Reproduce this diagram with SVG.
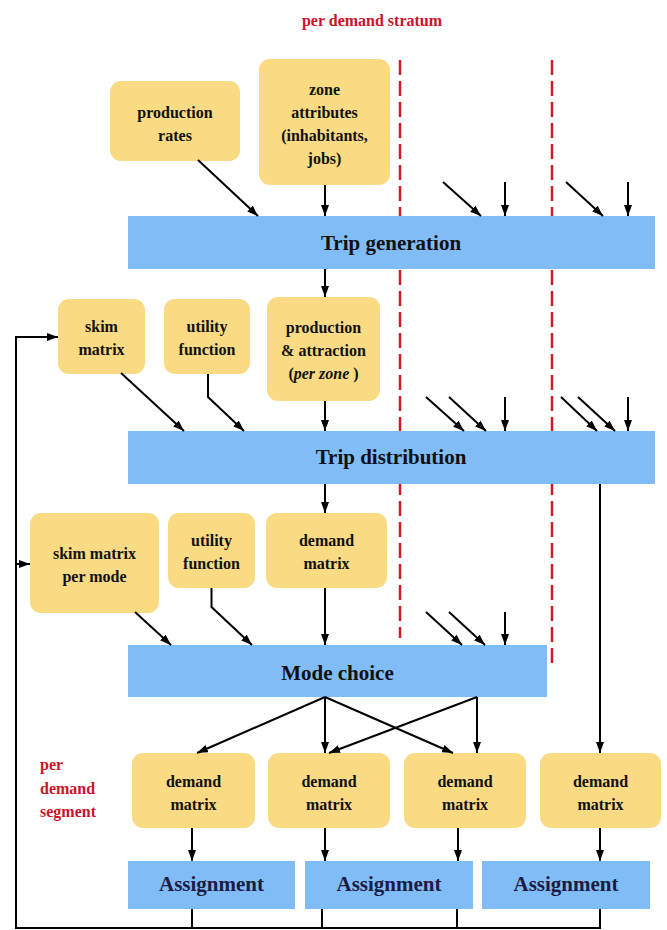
<svg xmlns="http://www.w3.org/2000/svg" width="667" height="930" viewBox="0 0 667 930">
<defs>
<marker id="ah" markerUnits="userSpaceOnUse" markerWidth="11" markerHeight="8" refX="11" refY="4" orient="auto">
<path d="M0,0 L11,4 L0,8 z" fill="#000"/>
</marker>
<style>
.y{fill:#FADA82;}
.b{fill:#80BCF6;}
text{font-family:'Liberation Serif', 'DejaVu Serif', serif;font-weight:bold;}
.t{font-size:16px;fill:#111;text-anchor:middle;}
.bt{font-size:21px;fill:#111;text-anchor:middle;}
.at{fill:#1b1b45;}
.r{font-size:16px;fill:#CC1428;}
.c{stroke:#000;stroke-width:2;fill:none;}
.ca{stroke:#000;stroke-width:2;fill:none;marker-end:url(#ah);}
.d{stroke:#D01C2A;stroke-width:2.5;stroke-dasharray:15 6;fill:none;}
</style>
</defs>
<rect width="667" height="930" fill="#fff"/>

<g id="strata">
<line class="d" x1="400" y1="60" x2="400" y2="638"/>
<line class="d" x1="552" y1="60" x2="552" y2="665"/>
<text class="r" x="372" y="26" text-anchor="middle" font-family="Liberation Serif">per demand stratum</text>
<text class="r" x="40" y="770" font-family="Liberation Serif">per</text>
<text class="r" x="40" y="794" font-family="Liberation Serif">demand</text>
<text class="r" x="40" y="817" font-family="Liberation Serif">segment</text>
</g>

<g id="production-rates" font-family="Liberation Serif"><rect class="y" x="110" y="81" width="130" height="80" rx="11"/>
<text class="t" x="175" y="117.5">production</text><text class="t" x="175" y="140.5">rates</text></g>

<g id="zone-attributes"><rect class="y" x="259" y="59" width="131" height="126" rx="11"/>
<text class="t" x="324.5" y="94.5">zone</text><text class="t" x="324.5" y="117.5">attributes</text><text class="t" x="324.5" y="140.5">(inhabitants,</text><text class="t" x="324.5" y="163.5">jobs)</text></g>

<g id="trip-generation"><rect class="b" x="128" y="216" width="527" height="53"/>
<text class="bt" x="391" y="250">Trip generation</text></g>

<g id="skim-matrix"><rect class="y" x="58" y="299" width="87" height="75" rx="11"/>
<text class="t" x="101.5" y="332">skim</text><text class="t" x="101.5" y="355">matrix</text></g>

<g id="utility-function-1"><rect class="y" x="164" y="299" width="86" height="75" rx="11"/>
<text class="t" x="207" y="332">utility</text><text class="t" x="207" y="355">function</text></g>

<g id="production-attraction"><rect class="y" x="267" y="297" width="113" height="104" rx="11"/>
<text class="t" x="323.5" y="333">production</text><text class="t" x="323.5" y="356">&amp; attraction</text><text class="t" x="323.5" y="379">(<tspan font-style="italic">per zone</tspan> )</text></g>

<g id="trip-distribution"><rect class="b" x="128" y="431" width="527" height="53"/>
<text class="bt" x="391" y="464">Trip distribution</text></g>

<g id="skim-matrix-per-mode"><rect class="y" x="30" y="513" width="129" height="100" rx="11"/>
<text class="t" x="94.5" y="558.5">skim matrix</text><text class="t" x="94.5" y="581.5">per mode</text></g>

<g id="utility-function-2"><rect class="y" x="168" y="513" width="87" height="75" rx="11"/>
<text class="t" x="211.5" y="546">utility</text><text class="t" x="211.5" y="569">function</text></g>

<g id="demand-matrix-0"><rect class="y" x="266" y="513" width="121" height="75" rx="11"/>
<text class="t" x="326.5" y="546">demand</text><text class="t" x="326.5" y="569">matrix</text></g>

<g id="mode-choice"><rect class="b" x="128" y="645" width="419" height="52"/>
<text class="bt" x="337.5" y="680">Mode choice</text></g>

<g id="demand-matrix-1"><rect class="y" x="132" y="753" width="123" height="75" rx="11"/>
<text class="t" x="193.5" y="787">demand</text><text class="t" x="193.5" y="810">matrix</text></g>
<g id="demand-matrix-2"><rect class="y" x="268" y="753" width="122" height="75" rx="11"/>
<text class="t" x="329" y="787">demand</text><text class="t" x="329" y="810">matrix</text></g>
<g id="demand-matrix-3"><rect class="y" x="404" y="753" width="122" height="75" rx="11"/>
<text class="t" x="465" y="787">demand</text><text class="t" x="465" y="810">matrix</text></g>
<g id="demand-matrix-4"><rect class="y" x="540" y="753" width="121" height="75" rx="11"/>
<text class="t" x="600.5" y="787">demand</text><text class="t" x="600.5" y="810">matrix</text></g>

<g id="assignment-1"><rect class="b" x="128" y="861" width="167" height="48"/>
<text class="bt at" x="211.5" y="891">Assignment</text></g>
<g id="assignment-2"><rect class="b" x="305" y="861" width="168" height="48"/>
<text class="bt at" x="389" y="891">Assignment</text></g>
<g id="assignment-3"><rect class="b" x="482" y="861" width="168" height="48"/>
<text class="bt at" x="566" y="891">Assignment</text></g>

<g id="connectors">
<line class="ca" x1="198" y1="160" x2="258" y2="216"/>
<line class="ca" x1="325" y1="185" x2="325" y2="216"/>
<line class="ca" x1="443" y1="182" x2="481" y2="216"/>
<line class="ca" x1="505" y1="182" x2="505" y2="216"/>
<line class="ca" x1="566" y1="182" x2="603" y2="216"/>
<line class="ca" x1="628" y1="182" x2="628" y2="216"/>

<line class="ca" x1="325" y1="269" x2="325" y2="297"/>
<line class="ca" x1="121" y1="373" x2="184" y2="431"/>
<polyline class="ca" points="208,374 208,397 244,431"/>
<line class="ca" x1="325" y1="401" x2="325" y2="431"/>
<line class="ca" x1="426" y1="397" x2="464" y2="431"/>
<line class="ca" x1="449" y1="397" x2="486" y2="431"/>
<line class="ca" x1="505" y1="397" x2="505" y2="431"/>
<line class="ca" x1="561" y1="397" x2="597" y2="431"/>
<line class="ca" x1="578" y1="397" x2="615" y2="431"/>
<line class="ca" x1="628" y1="397" x2="628" y2="431"/>

<line class="ca" x1="325" y1="484" x2="325" y2="513"/>
<line class="ca" x1="600" y1="484" x2="600" y2="753"/>
<line class="ca" x1="135" y1="612" x2="171" y2="645"/>
<polyline class="ca" points="211.5,588 211.5,607 252,645"/>
<line class="ca" x1="325" y1="588" x2="325" y2="645"/>
<line class="ca" x1="426" y1="612" x2="462" y2="645"/>
<line class="ca" x1="449" y1="612" x2="485" y2="645"/>
<line class="ca" x1="505" y1="612" x2="505" y2="645"/>

<line class="ca" x1="325" y1="697" x2="197" y2="753"/>
<line class="ca" x1="325" y1="697" x2="325" y2="753"/>
<line class="ca" x1="325" y1="697" x2="453" y2="753"/>
<line class="ca" x1="477" y1="697" x2="329" y2="753"/>
<line class="ca" x1="477" y1="697" x2="477" y2="753"/>

<line class="ca" x1="192" y1="828" x2="192" y2="861"/>
<line class="ca" x1="325" y1="828" x2="325" y2="861"/>
<line class="ca" x1="458" y1="828" x2="458" y2="861"/>
<line class="ca" x1="600" y1="828" x2="600" y2="861"/>

<line class="c" x1="192" y1="909" x2="192" y2="928"/>
<line class="c" x1="322" y1="909" x2="322" y2="928"/>
<line class="c" x1="457" y1="909" x2="457" y2="928"/>
<line class="c" x1="600" y1="909" x2="600" y2="928"/>
<polyline class="ca" points="601,928 16,928 16,337 58,337"/>
<line class="ca" x1="16" y1="564" x2="30" y2="564"/>
</g>
</svg>
